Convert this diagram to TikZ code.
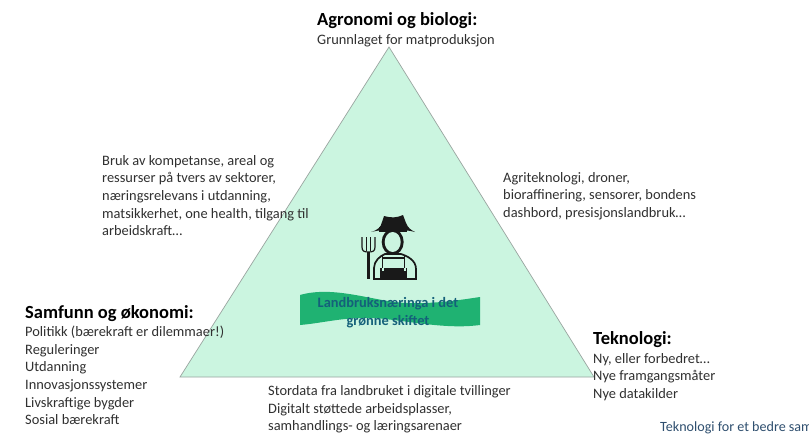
\documentclass[tikz,border=0pt]{standalone}
\usepackage{fontspec}
\setmainfont{Carlito}
\definecolor{tri}{HTML}{CBF5E0}
\definecolor{triline}{HTML}{9AA5A0}
\definecolor{band}{HTML}{1FB272}
\definecolor{bandtext}{HTML}{14607A}
\definecolor{body}{HTML}{303030}
\definecolor{bluetext}{HTML}{2F4F6F}
\tikzset{
  x=1pt,y=-1pt,
  head/.style={anchor=north west,inner sep=0pt,font=\fontsize{18.5}{22}\selectfont\bfseries,text=black},
  para/.style={anchor=north west,inner sep=0pt,align=left,font=\fontsize{14.4}{17.6}\selectfont,text=body},
  icon/.style={fill=black!90,draw=none},
  iconline/.style={draw=black!90,fill=none,line width=1.7pt},
  cut/.style={fill=tri,draw=none}
}
\begin{document}
\begin{tikzpicture}
\useasboundingbox (0,0) rectangle (809,434);
\clip (0,0) rectangle (809,434);
\fill[white] (0,0) rectangle (809,434);
% triangle
\draw[fill=tri,draw=triline,line width=0.7pt] (389,47) -- (594,377) -- (180,377) -- cycle;
% banner
\fill[band] (300,295) .. controls (335,285) and (375,302) .. (407,303)
  .. controls (435,304) and (460,300) .. (480,297) -- (480,325)
  .. controls (450,329) and (420,323) .. (385,319)
  .. controls (350,315) and (325,323) .. (300,325) -- cycle;
% farmer icon: hat
\fill[icon] (371,232) .. controls (378,230) and (381,227) .. (382,222)
  -- (384,216) .. controls (392,218) and (396,218) .. (403,215) -- (406,223)
  .. controls (408,228) and (411,230) .. (415,232)
  .. controls (405,229) and (382,229) .. (371,232) -- cycle;
% head
\fill[icon] (392.7,242) ellipse (11 and 13);
\fill[cut] (392.7,242) ellipse (8 and 10);
\fill[icon] (379,227) rectangle (407,232);
% neck line and torso
\draw[iconline] (374,279) -- (374,268) .. controls (374,261) and (380,256) .. (385,254)
  -- (401,254) .. controls (407,256) and (416,260) .. (416,269) -- (416,279);
\fill[icon] (373,277.5) rectangle (417,279.5);
% bib straps and trousers
\draw[iconline] (382.5,256) -- (382.5,270);
\draw[iconline] (404.5,256) -- (404.5,270);
\draw[iconline] (382.5,258) -- (404.5,258);
\fill[icon] (380,268) -- (407,268) -- (407,279) -- (380,279) -- cycle;
\fill[cut] (381.5,268) rectangle (383.5,270.5);
\fill[cut] (403.5,268) rectangle (405.5,270.5);
% fork
\fill[icon] (367,252) rectangle (370,279);
\draw[black!90,line width=1.2pt] (362,237) -- (362,247) .. controls (362,251) and (364,252) .. (368.5,252)
  .. controls (373,252) and (375,251) .. (375,247) -- (375,237);
\draw[black!90,line width=1.2pt] (366.5,237) -- (366.5,251);
\draw[black!90,line width=1.2pt] (370.7,237) -- (370.7,251);
% texts
\node[head] (agro) at (317,12) {Agronomi og biologi:};
\node[para] (agrosub) at (317,34) {Grunnlaget for matproduksjon};
\node[para] (left) at (102,155) {Bruk av kompetanse, areal og\\ressurser på tvers av sektorer,\\næringsrelevans i utdanning,\\matsikkerhet, one health, tilgang til\\arbeidskraft…};
\node[para] (right) at (503,172) {Agriteknologi, droner,\\bioraffinering, sensorer, bondens\\dashbord, presisjonslandbruk…};
\node[anchor=center,inner sep=0pt,align=center,text=bandtext,font=\fontsize{14.4}{18}\selectfont\bfseries] (bandlabel) at (388,313) {Landbruksnæringa i det\\grønne skiftet};
\node[head] (sam) at (25,305) {Samfunn og økonomi:};
\node[para] (samtxt) at (25,326) {Politikk (bærekraft er dilemmaer!)\\Reguleringer\\Utdanning\\Innovasjonssystemer\\Livskraftige bygder\\Sosial bærekraft};
\node[head] (tek) at (593,331) {Teknologi:};
\node[para] (tektxt) at (593,353) {Ny, eller forbedret…\\Nye framgangsmåter\\Nye datakilder};
\node[para] (bottom) at (268,385.5) {Stordata fra landbruket i digitale tvillinger\\Digitalt støttede arbeidsplasser,\\samhandlings- og læringsarenaer};
\node[anchor=north west,inner sep=0pt,text=bluetext,font=\fontsize{14.1}{16}\selectfont] (cutoff) at (660,421.5) {Teknologi for et bedre sam};
\end{tikzpicture}
\end{document}
